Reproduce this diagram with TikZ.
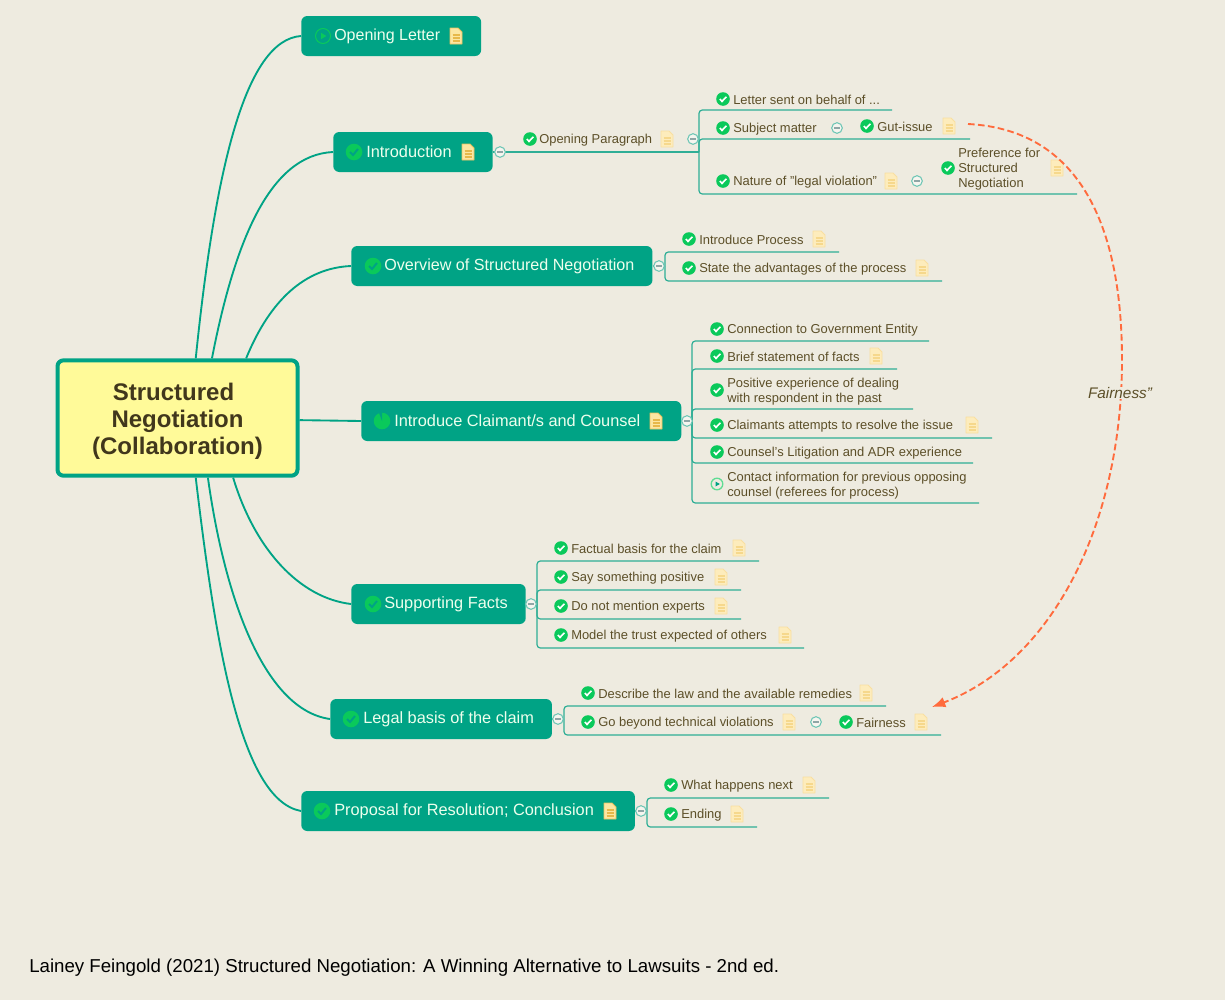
\documentclass[tikz,border=0pt]{standalone}
\usepackage{fontspec}
\setmainfont{Liberation Sans}
\usetikzlibrary{arrows.meta}
\definecolor{paper}{HTML}{EEEBE0}
\definecolor{teal}{HTML}{00A385}
\definecolor{twig}{HTML}{2FAE96}
\definecolor{ink}{HTML}{5C4F28}
\definecolor{tick}{HTML}{0AC95B}
\definecolor{rel}{HTML}{FF6B3D}
\definecolor{paleF}{HTML}{FDECBC}
\definecolor{paleE}{HTML}{F9DFA0}
\definecolor{paleL}{HTML}{F6D88C}
\definecolor{deepF}{HTML}{FCE6A2}
\definecolor{deepE}{HTML}{EBC25E}
\definecolor{deepL}{HTML}{E7B84A}
\definecolor{minusgray}{HTML}{8FA6A6}
\newcommand{\drawnote}[3]{%
	\filldraw[fill=#1,draw=#2,line width=.7pt,line join=round]
		(-6,-8) -- (2,-8) -- (6,-4) -- (6,8) -- (-6,8) -- cycle;
	\draw[#3,line width=.9pt] (-3.5,-1) -- (3.5,-1) (-3.5,2) -- (3.5,2) (-3.5,5) -- (3.5,5);
}
\tikzset{
	chk/.pic={\fill[tick] (0,0) circle (6.8);
		\draw[white,line width=1.2pt] (-3.2,0) -- (-1,2.4) -- (3.4,-2.2);},
	chkb/.pic={\fill[tick] (0,0) circle (8.3);
		\draw[teal,line width=1.5pt] (-4,0) -- (-1,3) -- (4,-3);},
	play/.pic={\draw[tick!65,line width=1pt] (0,0) circle (5.8);
		\fill[teal] (-1.5,-2.5) -- (2.8,0) -- (-1.5,2.5) -- cycle;},
	playb/.pic={\draw[tick,line width=.8pt] (0,0) circle (7.5);
		\fill[tick] (-2,-3.2) -- (3.4,0) -- (-2,3.2) -- cycle;},
	pie/.pic={\fill[tick] (0,0) circle (8.3);
		\fill[teal] (0,0) -- (0,-8.3) arc (-90:-110:8.3) -- cycle;},
	note/.pic={\drawnote{paleF}{paleE}{paleL}},
	noteb/.pic={\drawnote{deepF}{deepE}{deepL}},
	fold/.pic={\filldraw[fill=paper!50!white,draw=twig!70,line width=.8pt] (0,0) circle (5.3);
		\draw[minusgray,line width=.9pt] (-2.6,0) -- (2.6,0);},
	topic/.style={fill=teal,text=white!93!green,rounded corners=4.5pt,anchor=west,
		minimum height=30pt,inner xsep=13.5pt,inner ysep=0pt,font=\fontsize{12.25}{14}\selectfont,
		execute at begin node=\hspace*{11.25pt}},
	noted/.style={execute at end node=\hspace*{17.25pt}},
	leaf/.style={anchor=west,inner sep=0pt,text=ink,align=left,yshift=-.75pt,
		font=\fontsize{9.7}{11.25}\selectfont},
	branch/.style={draw=teal,line width=1.4pt},
	twigline/.style={draw=twig,line width=.9pt,rounded corners=2.5pt},
	relline/.style={draw=rel,line width=1.4pt,dash pattern=on 5pt off 2.5pt,
		-{Latex[length=10pt,width=8pt]}}
}
\begin{document}
\begin{tikzpicture}[x=0.75pt,y=-0.75pt]
	\useasboundingbox (0,0) rectangle (1225,1000);
	\fill[paper] (0,0) rectangle (1225,1000);

	\node (root) at (177.5,418) [draw=teal,line width=3pt,fill=yellow!40!white,rounded corners=4.5pt,
		minimum width=180pt,minimum height=86.5pt,inner sep=0pt,align=center,text=ink!70!black,
		font=\bfseries\fontsize{18}{20.25}\selectfont]
		{\rule{0pt}{17.5pt}Structured\hspace*{6pt}\\Negotiation\hspace*{6pt}\\(Collaboration)};

	\node (letter) at (301,36) [topic,noted,font=\fontsize{12}{14}\selectfont] {Opening Letter};
	\node (intro) at (333,152) [topic,noted] {Introduction};
	\node (overview) at (351,266) [topic,font=\fontsize{12.1}{14}\selectfont] {Overview of Structured Negotiation};
	\node (claimant) at (361,421) [topic,noted] {Introduce Claimant/s and Counsel};
	\node (facts) at (351,604) [topic] {Supporting Facts};
	\node (legal) at (330,719) [topic] {Legal basis of the claim};
	\node (proposal) at (301,811) [topic,noted] {Proposal for Resolution; Conclusion};

	\draw[branch] (root.73) .. controls (215,170) and (245,40) .. (letter.west);
	\draw[branch] (root.60) .. controls (235,240) and (270,155) .. (intro.west);
	\draw[branch] (root.41) .. controls (270,300) and (305,268) .. (overview.west);
	\draw[branch] (root.-1) -- (claimant.west);
	\draw[branch] (root.-47) .. controls (255,550) and (300,598) .. (facts.west);
	\draw[branch] (root.-63) .. controls (225,600) and (265,710) .. (legal.west);
	\draw[branch] (root.-73) .. controls (215,640) and (240,800) .. (proposal.west);

	% hubs of the brackets
	\coordinate (hubP) at (699,152);
	\coordinate (hubO) at (665,266);
	\coordinate (hubC) at (692,421);
	\coordinate (hubF) at (537,604);
	\coordinate (hubL) at (564,719);
	\coordinate (hubE) at (647,811);

	% leaf texts
	\node (para) at (539,139) [leaf] {Opening Paragraph};
	\node (sent) at (733,99) [leaf] {Letter sent on behalf of ...};
	\node (subject) at (733,128) [leaf] {Subject matter};
	\node (gut) at (877,126) [leaf] {Gut-issue};
	\node (nature) at (733,181) [leaf] {Nature of "legal violation"};
	\node (pref) at (958,168.5) [leaf] {Preference for\\Structured\\Negotiation};
	\node (process) at (699,239) [leaf] {Introduce Process};
	\node (advant) at (699,268) [leaf] {State the advantages of the process};
	\node (entity) at (727,329) [leaf] {Connection to Government Entity};
	\node (brief) at (727,356) [leaf] {Brief statement of facts};
	\node (past) at (727,390.5) [leaf] {Positive experience of dealing\\with respondent in the past};
	\node (resolve) at (727,425) [leaf] {Claimants attempts to resolve the issue};
	\node (adr) at (727,452) [leaf] {Counsel's Litigation and ADR experience};
	\node (contact) at (727,484.5) [leaf] {Contact information for previous opposing\\counsel (referees for process)};
	\node (basis) at (571,548) [leaf] {Factual basis for the claim};
	\node (say) at (571,577) [leaf] {Say something positive};
	\node (experts) at (571,606) [leaf] {Do not mention experts};
	\node (trust) at (571,635) [leaf] {Model the trust expected of others};
	\node (law) at (598,693) [leaf] {Describe the law and the available remedies};
	\node (beyond) at (598,722) [leaf] {Go beyond technical violations};
	\node (fair) at (856,722) [leaf] {Fairness};
	\node (next) at (681,785) [leaf] {What happens next};
	\node (ending) at (681,814) [leaf] {Ending};

	% ends of the lines under the leaves
	\coordinate (sentE) at (892,110);
	\coordinate (subjectE) at (970,139);
	\coordinate (natureE) at (1077,194);
	\coordinate (processE) at (839,252);
	\coordinate (advantE) at (942,281);
	\coordinate (entityE) at (929,341);
	\coordinate (briefE) at (897,369);
	\coordinate (pastE) at (913,409);
	\coordinate (resolveE) at (992,438);
	\coordinate (adrE) at (973,463);
	\coordinate (contactE) at (979,503);
	\coordinate (basisE) at (759,561);
	\coordinate (sayE) at (741,590);
	\coordinate (expertsE) at (741,619);
	\coordinate (trustE) at (804,648);
	\coordinate (lawE) at (886,706);
	\coordinate (beyondE) at (941,735);
	\coordinate (nextE) at (829,798);
	\coordinate (endingE) at (757,827);

	\draw[twigline] (intro.east |- hubP) -- (hubP);
	\draw[twigline] (hubP) |- (sentE);
	\draw[twigline] (hubP) |- (subjectE);
	\draw[twigline] (hubP) |- (natureE);
	\draw[twigline] (overview.east) -- (hubO);
	\draw[twigline] (hubO) |- (processE);
	\draw[twigline] (hubO) |- (advantE);
	\draw[twigline] (claimant.east) -- (hubC);
	\draw[twigline] (hubC) |- (entityE);
	\draw[twigline] (hubC) |- (briefE);
	\draw[twigline] (hubC) |- (pastE);
	\draw[twigline] (hubC) |- (resolveE);
	\draw[twigline] (hubC) |- (adrE);
	\draw[twigline] (hubC) |- (contactE);
	\draw[twigline] (facts.east) -- (hubF);
	\draw[twigline] (hubF) |- (basisE);
	\draw[twigline] (hubF) |- (sayE);
	\draw[twigline] (hubF) |- (expertsE);
	\draw[twigline] (hubF) |- (trustE);
	\draw[twigline] (legal.east) -- (hubL);
	\draw[twigline] (hubL) |- (lawE);
	\draw[twigline] (hubL) |- (beyondE);
	\draw[twigline] (proposal.east) -- (hubE);
	\draw[twigline] (hubE) |- (nextE);
	\draw[twigline] (hubE) |- (endingE);

	% topic icons
	\pic at (323,36) {playb};
	\pic at (456,36) {noteb};
	\pic at (354,152) {chkb};
	\pic at (468,152) {noteb};
	\pic at (373,266) {chkb};
	\pic at (382,421) {pie};
	\pic at (656,421) {noteb};
	\pic at (373,604) {chkb};
	\pic at (351,719) {chkb};
	\pic at (322,811) {chkb};
	\pic at (610,811) {noteb};

	% leaf icons
	\pic at (530,139) {chk};
	\pic at (667,139) {note};
	\pic at (723,99) {chk};
	\pic at (723,128) {chk};
	\pic at (867,126) {chk};
	\pic at (949,126) {note};
	\pic at (723,181) {chk};
	\pic at (891,181) {note};
	\pic at (948,168) {chk};
	\pic at (1057,168) {note};
	\pic at (689,239) {chk};
	\pic at (819,239) {note};
	\pic at (689,268) {chk};
	\pic at (922,268) {note};
	\pic at (717,329) {chk};
	\pic at (717,356) {chk};
	\pic at (876,356) {note};
	\pic at (717,390) {chk};
	\pic at (717,425) {chk};
	\pic at (972,425) {note};
	\pic at (717,452) {chk};
	\pic at (717,484) {play};
	\pic at (561,548) {chk};
	\pic at (739,548) {note};
	\pic at (561,577) {chk};
	\pic at (721,577) {note};
	\pic at (561,606) {chk};
	\pic at (721,606) {note};
	\pic at (561,635) {chk};
	\pic at (785,635) {note};
	\pic at (588,693) {chk};
	\pic at (866,693) {note};
	\pic at (588,722) {chk};
	\pic at (789,722) {note};
	\pic at (846,722) {chk};
	\pic at (921,722) {note};
	\pic at (671,785) {chk};
	\pic at (809,785) {note};
	\pic at (671,814) {chk};
	\pic at (737,814) {note};

	% collapse marks
	\pic at (500,152) {fold};
	\pic at (693,139) {fold};
	\pic at (837,128) {fold};
	\pic at (917,181) {fold};
	\pic at (659,266) {fold};
	\pic at (687,421) {fold};
	\pic at (531,604) {fold};
	\pic at (558,719) {fold};
	\pic at (816,722) {fold};
	\pic at (641,811) {fold};

	\coordinate (gutT) at (968,124);
	\coordinate (fairH) at (932,707);
	\draw[relline] (gutT) .. controls (1085,130) and (1122,235) .. (1122,360)
		.. controls (1122,520) and (1055,660) .. (fairH);
	\node (fairness) at (1120,393) [fill=paper,inner xsep=1pt,inner ysep=0pt,text=ink,
		font=\itshape\fontsize{11.5}{13}\selectfont] {Fairness"};

	\node (source) at (29,967.5) [anchor=west,inner sep=0pt,text=black,font=\fontsize{14}{16}\selectfont]
		{Lainey Feingold (2021) Structured Negotiation: A Winning Alternative to Lawsuits - 2nd ed.};
\end{tikzpicture}
\end{document}
